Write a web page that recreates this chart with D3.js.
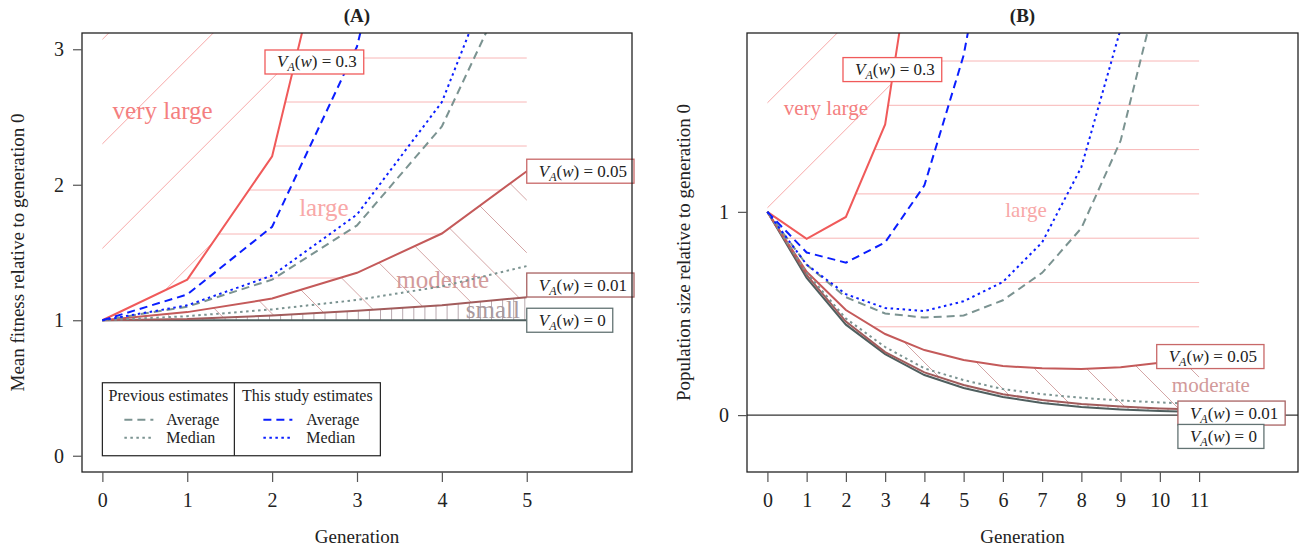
<!DOCTYPE html>
<html>
<head>
<meta charset="utf-8">
<script src="https://cdnjs.cloudflare.com/ajax/libs/d3/7.8.5/d3.min.js"></script>
<style>
  body { margin: 0; background: #fff; }
  svg text { font-family: 'Liberation Serif', 'Times New Roman', serif; fill: #222; }
</style>
</head>
<body>
<section></section>
<script>

// ---- panel A : mean fitness ----
const genA = [0, 1, 2, 3, 4, 5];
const fitVA0 = [1, 1, 1, 1, 1, 1];
const fitVA001 = [1, 1.01, 1.035, 1.07, 1.11, 1.17];
const fitVA005 = [1, 1.06, 1.16, 1.35, 1.64, 2.10];
const fitVA03 = [1, 1.30, 2.21, 4.8, 9.6, 19];
const fitPrevAvg = [1, 1.10, 1.30, 1.70, 2.43, 3.76];
const fitPrevMed = [1, 1.03, 1.08, 1.15, 1.25, 1.40];
const fitStudyAvg = [1, 1.19, 1.69, 3.02, 5.6, 10.2];
const fitStudyMed = [1, 1.11, 1.33, 1.78, 2.61, 4.2];

// ---- panel B : population size ----
const genB = [0, 1, 2, 3, 4, 5, 6, 7, 8, 9, 10, 11];
const popVA0 = [1, 0.675, 0.445, 0.30, 0.197, 0.133, 0.089, 0.059, 0.040, 0.028, 0.020, 0.015];
const popVA001 = [1, 0.69, 0.46, 0.31, 0.21, 0.148, 0.103, 0.074, 0.055, 0.042, 0.033, 0.027];
const popVA005 = [1, 0.705, 0.517, 0.399, 0.32, 0.271, 0.241, 0.231, 0.227, 0.236, 0.258, 0.288];
const popVA03 = [1, 0.867, 0.975, 1.43, 2.68, 5.4, 11];
const popPrevAvg = [1, 0.74, 0.58, 0.50, 0.48, 0.49, 0.565, 0.70, 0.92, 1.35, 2.13];
const popPrevMed = [1, 0.70, 0.475, 0.335, 0.23, 0.172, 0.128, 0.103, 0.085, 0.072, 0.062, 0.055];
const popStudyAvg = [1, 0.80, 0.75, 0.85, 1.13, 1.77, 2.8];
const popStudyMed = [1, 0.74, 0.595, 0.527, 0.512, 0.56, 0.655, 0.85, 1.22, 1.9, 3.1];

// ticks
const ticksAx = [0, 1, 2, 3, 4, 5];
const ticksAy = [0, 1, 2, 3];
const ticksBx = [0, 1, 2, 3, 4, 5, 6, 7, 8, 9, 10, 11];
const ticksBy = [0, 1];

const regionNames = ['very large', 'large', 'moderate', 'small'];
const vaValues = ['0.3', '0.05', '0.01', '0'];


const w = 1299;
const h = 549;

const col03 = '#f05a5a';
const col005 = '#c45a5a';
const col001 = '#a25c5c';
const col0 = '#4f5f5f';
const colPrev = '#7b9391';
const colStudy = '#0a1eff';

const svg = d3.select('section').append('svg').attr('width', w).attr('height', h);
const defs = svg.append('defs');

const pts = (gens, vals) => vals.map((v, i) => [gens[i], v]);


// hatch lines inside a polygon
function hatch(g, id, x, y, poly, kind, step, phase, color, box) {
    defs.append('clipPath').attr('id', id).append('path')
        .attr('d', 'M' + poly.map(d => x(d[0]) + ',' + y(d[1])).join('L') + 'Z');

    const [x0, x1, y0, y1] = box;
    let lo, hi;
    if (kind === 'h') { lo = y0; hi = y1; }
    if (kind === 'v') { lo = x0; hi = x1; }
    if (kind === '/') { lo = x0 + y0; hi = x1 + y1; }
    if (kind === '\\') { lo = y0 - x1; hi = y1 - x0; }

    const segs = [];
    for (let k = Math.floor((lo - phase) / step); k <= Math.ceil((hi - phase) / step); k++) {
        const c = phase + k * step;
        if (kind === 'h') segs.push([x0, c, x1, c]);
        if (kind === 'v') segs.push([c, y0, c, y1]);
        if (kind === '/') segs.push([x0, c - x0, x1, c - x1]);
        if (kind === '\\') segs.push([x0, x0 + c, x1, x1 + c]);
    }

    g.append('g').attr('clip-path', `url(#${id})`)
        .selectAll('line').data(segs).enter().append('line')
        .attr('x1', d => d[0]).attr('y1', d => d[1])
        .attr('x2', d => d[2]).attr('y2', d => d[3])
        .attr('stroke', color).attr('stroke-width', 1);
}


// boxed V_A(w) label
function vaBox(g, left, cy, val, color) {
    const t = g.append('text').attr('y', cy + 5.5).attr('font-size', 17);
    t.append('tspan').attr('font-style', 'italic').text('V');
    t.append('tspan').attr('font-style', 'italic').attr('font-size', 12).attr('dy', 4).text('A');
    t.append('tspan').attr('dy', -4).text('(');
    t.append('tspan').attr('font-style', 'italic').text('w');
    t.append('tspan').text(') = ' + val);
    const len = t.node().getComputedTextLength();
    t.attr('x', left + 12);
    g.insert('rect', () => t.node())
        .attr('x', left).attr('y', cy - 12)
        .attr('width', len + 19).attr('height', 24)
        .attr('fill', '#fff').attr('stroke', color).attr('stroke-width', 1.3);
}


function drawPanel(p) {
    const { x, y, gens, s0, s001, s005, s03, prevAvg, prevMed, studyAvg, studyMed } = p;
    const [xl, xr] = x.range();
    const [yb, yt] = y.range();
    const box = [xl, xr, yt, yb];

    const g = svg.append('g');

    // plot clip
    defs.append('clipPath').attr('id', p.id + '-plot').append('rect')
        .attr('x', xl).attr('y', yt).attr('width', xr - xl).attr('height', yb - yt);
    const plot = g.append('g').attr('clip-path', `url(#${p.id}-plot)`);

    const S0 = pts(gens, s0), S001 = pts(gens, s001), S005 = pts(gens, s005), S03 = pts(gens, s03);
    const last03 = S03[S03.length - 1][0];
    const last005 = S005[S005.length - 1][0];

    // regions
    const veryLarge = [...S03, [last03, 60], [0, 60]];
    const large = [...S005, [last005, 60], [last03, 60], ...S03.slice().reverse()];
    const moderate = [...S005, ...S001.slice().reverse()];
    const small = [...S001, ...S0.slice().reverse()];

    hatch(plot, p.id + '-vl', x, y, veryLarge, '/', p.hatch.vl[0], p.hatch.vl[1], '#f7a9a9', box);
    hatch(plot, p.id + '-lg', x, y, large, 'h', p.hatch.lg[0], p.hatch.lg[1], '#f8b6b6', box);
    hatch(plot, p.id + '-md', x, y, moderate, '\\', p.hatch.md[0], p.hatch.md[1], '#d4a6a6', box);
    hatch(plot, p.id + '-sm', x, y, small, 'v', p.hatch.sm[0], p.hatch.sm[1], '#b9aab0', box);

    // region names
    const nameCols = ['#f47f7f', '#f8a8a8', '#d29a9a', '#aa9a9e'];
    p.names.forEach((n, i) => {
        if (!n) return;
        plot.append('text').attr('x', x(n[0])).attr('y', y(n[1]))
            .attr('text-anchor', 'middle').attr('font-size', p.nameSize)
            .style('fill', nameCols[i]).text(regionNames[i]);
    });

    if (p.zeroLine) {
        plot.append('line').attr('x1', xl).attr('x2', xr).attr('y1', y(0)).attr('y2', y(0))
            .attr('stroke', '#333').attr('stroke-width', 1.2);
    }

    // lines
    const line = d3.line().x(d => x(d[0])).y(d => y(d[1]));
    const series = [
        [S0, col0, null], [S001, col001, null], [S005, col005, null], [S03, col03, null],
        [pts(gens, prevAvg), colPrev, '8,5'], [pts(gens, prevMed), colPrev, '2.5,3.5'],
        [pts(gens, studyAvg), colStudy, '8,5'], [pts(gens, studyMed), colStudy, '2.5,3.5']
    ];
    plot.selectAll('path.series').data(series).enter().append('path').attr('class', 'series')
        .attr('d', d => line(d[0]))
        .attr('fill', 'none').attr('stroke', d => d[1]).attr('stroke-width', 2)
        .attr('stroke-dasharray', d => d[2]);

    // V_A boxes
    const boxCols = [col03, '#c86868', '#a86262', '#637373'];
    p.boxes.forEach((b, i) => vaBox(g, x(b[0]), y(b[1]), vaValues[i], boxCols[i]));

    // frame
    g.append('rect').attr('x', xl).attr('y', yt).attr('width', xr - xl).attr('height', yb - yt)
        .attr('fill', 'none').attr('stroke', '#222').attr('stroke-width', 1.3);

    // axes
    const xAxis = d3.axisBottom(x).tickValues(p.xticks).tickFormat(d3.format('d'))
        .tickSize(10).tickPadding(11).tickSizeOuter(0);
    const yAxis = d3.axisLeft(y).tickValues(p.yticks).tickFormat(d3.format('d'))
        .tickSize(9).tickPadding(9).tickSizeOuter(0);
    const ax = g.append('g').attr('transform', `translate(0,${yb})`).call(xAxis);
    const ay = g.append('g').attr('transform', `translate(${xl},0)`).call(yAxis);
    [ax, ay].forEach(a => {
        a.select('.domain').remove();
        a.selectAll('line').attr('stroke', '#555').attr('stroke-width', 1.2);
        a.selectAll('text').attr('font-size', 20).attr('font-family', null).style('fill', '#222');
    });

    // titles
    g.append('text').attr('x', (xl + xr) / 2).attr('y', 22).attr('text-anchor', 'middle')
        .attr('font-size', 19).attr('font-weight', 'bold').text(p.title);
    g.append('text').attr('x', (xl + xr) / 2).attr('y', 543).attr('text-anchor', 'middle')
        .attr('font-size', 19).text('Generation');
    g.append('text').attr('transform', `translate(${p.ylabX},${(yt + yb) / 2}) rotate(-90)`)
        .attr('text-anchor', 'middle').attr('font-size', 19).text(p.ylab);

    return g;
}


// panel A

const xA = d3.scaleLinear().domain([-0.24, 6.24]).range([82, 632]);
const yA = d3.scaleLinear().domain([-0.12, 3.12]).range([472, 33]);

const gA = drawPanel({
    id: 'pa', x: xA, y: yA, gens: genA,
    s0: fitVA0, s001: fitVA001, s005: fitVA005, s03: fitVA03,
    prevAvg: fitPrevAvg, prevMed: fitPrevMed, studyAvg: fitStudyAvg, studyMed: fitStudyMed,
    hatch: { vl: [104.5, 246.25], lg: [44, 58], md: [52.6, -11], sm: [11.1, 103] },
    names: [[0.71, 2.485], [2.61, 1.77], [4.01, 1.238], [4.60, 1.017]],
    nameSize: 25,
    boxes: [[1.916, 2.906], [5, fitVA005[5]], [5, 1.26], [5, 1]],
    xticks: ticksAx, yticks: ticksAy,
    title: '(A)', ylab: 'Mean fitness relative to generation 0', ylabX: 24
});


// legend

const lgLeft = xA(0), lgTop = yA(0) - 73;
const legend = gA.append('g').attr('id', 'legend');
legend.append('rect').attr('x', lgLeft).attr('y', lgTop).attr('width', 278).attr('height', 73)
    .attr('fill', '#fff').attr('stroke', '#222').attr('stroke-width', 1.2);
legend.append('line').attr('x1', lgLeft + 132).attr('x2', lgLeft + 132)
    .attr('y1', lgTop).attr('y2', lgTop + 73).attr('stroke', '#222').attr('stroke-width', 1.2);

const lgCols = [
    { head: 'Previous estimates', cx: 66, lx: 22, tx: 64, col: colPrev },
    { head: 'This study estimates', cx: 205, lx: 161, tx: 204, col: colStudy }
];
lgCols.forEach(c => {
    legend.append('text').attr('x', lgLeft + c.cx).attr('y', lgTop + 18).attr('text-anchor', 'middle')
        .attr('font-size', 16).text(c.head);
    [['Average', '8,5', 37], ['Median', '2.5,3.5', 55]].forEach(r => {
        legend.append('line').attr('x1', lgLeft + c.lx).attr('x2', lgLeft + c.lx + 29)
            .attr('y1', lgTop + r[2]).attr('y2', lgTop + r[2])
            .attr('stroke', c.col).attr('stroke-width', 2).attr('stroke-dasharray', r[1]);
        legend.append('text').attr('x', lgLeft + c.tx).attr('y', lgTop + r[2] + 5)
            .attr('font-size', 16).text(r[0]);
    });
});


// panel B

const xB = d3.scaleLinear().domain([-0.52, 13.52]).range([747, 1298]);
const yB = d3.scaleLinear().domain([-0.28, 1.88]).range([472, 33]);

drawPanel({
    id: 'pb', x: xB, y: yB, gens: genB,
    s0: popVA0, s001: popVA001, s005: popVA005, s03: popVA03,
    prevAvg: popPrevAvg, prevMed: popPrevMed, studyAvg: popStudyAvg, studyMed: popStudyMed,
    hatch: { vl: [105, 975.25], lg: [44.3, 61], md: [52, -562], sm: [10, 768] },
    names: [[1.49, 1.477], [6.59, 0.975], [11.3, 0.114], null],
    nameSize: 21,
    boxes: [[1.926, 1.70], [9.92, 0.288], [10.46, 0.01], [10.46, -0.105]],
    xticks: ticksBx, yticks: ticksBy, zeroLine: true,
    title: '(B)', ylab: 'Population size relative to generation 0', ylabX: 690
});

</script>
</body>
</html>
